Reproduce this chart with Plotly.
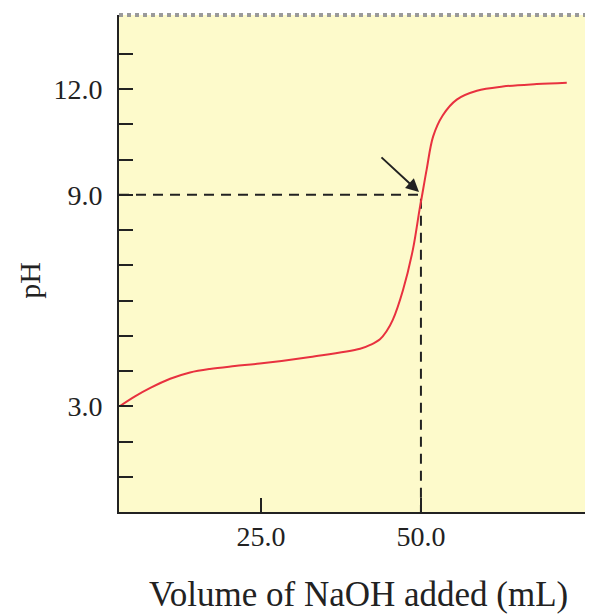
# Titration curve: pH vs volume of NaOH added
import plotly.graph_objects as go

# values
volume_ml = [2.9, 5.3, 7.7, 10.8, 13.9, 17.0, 20.9, 24.8, 32.7, 40.5, 42.2, 43.6, 44.6,
             45.6, 47.2, 48.75, 49.8, 50.1, 50.9, 51.9, 53.4, 55.6, 58.75, 62.8, 68.1, 72.8]
ph = [3.0, 3.28, 3.52, 3.78, 3.96, 4.06, 4.14, 4.21, 4.4, 4.63, 4.75, 4.9, 5.12,
      5.45, 6.3, 7.45, 8.6, 8.9, 9.72, 10.65, 11.25, 11.7, 11.95, 12.07, 12.14, 12.18]

eq_volume = 50.0
eq_ph = 9.0
arrow_tail = (43.6, 10.1)

y_ticks = list(range(1, 14))
y_labels = {3: "3.0", 9: "9.0", 12: "12.0"}
x_ticks = [25, 50]
x_labels = ["25.0", "50.0"]

x_min, x_max = 2.8, 76.9
y_min, y_max = 0, 14.1

fig = go.Figure()

# dashed guide lines to the equivalence point
fig.add_trace(go.Scatter(x=[x_min, eq_volume, eq_volume], y=[eq_ph, eq_ph, y_min],
                         mode="lines", line=dict(color="#222222", width=2, dash="10px,7px"),
                         hoverinfo="skip", showlegend=False))

fig.add_trace(go.Scatter(x=volume_ml, y=ph, mode="lines",
                         line=dict(color="#E8313F", width=2, shape="spline", smoothing=1.0),
                         showlegend=False))

fig.add_annotation(x=eq_volume - 0.3, y=eq_ph + 0.08, ax=arrow_tail[0], ay=arrow_tail[1],
                   xref="x", yref="y", axref="x", ayref="y", text="",
                   showarrow=True, arrowhead=2, arrowsize=1.3, arrowwidth=2, arrowcolor="#222222")

# axis titles placed by hand
fig.add_annotation(text="pH", x=-0.188, y=0.467, xref="paper", yref="paper",
                   textangle=-90, showarrow=False, xanchor="center", yanchor="middle",
                   font=dict(size=30, color="#222222"))
fig.add_annotation(text="Volume of NaOH added (mL)", x=0.506, y=-0.165, xref="paper", yref="paper",
                   showarrow=False, xanchor="center", yanchor="middle",
                   font=dict(size=35, color="#222222"))

# grey top border
fig.add_shape(type="line", xref="paper", yref="paper", x0=0, x1=1, y0=1, y1=1,
              line=dict(color="#9a9a9a", width=4, dash="dot"))

# page body has an 8px margin, so the figure is drawn 8px smaller and shifted
fig.update_layout(
    width=585, height=606,
    margin=dict(l=111, r=0, t=7, b=102),
    paper_bgcolor="white",
    plot_bgcolor="#FDFACB",
    font=dict(family="Liberation Serif", color="#222222"),
    xaxis=dict(range=[x_min, x_max], tickvals=x_ticks, ticktext=x_labels,
               ticks="inside", ticklen=14, tickwidth=2, tickcolor="#222222",
               showline=True, linecolor="#222222", linewidth=2, showgrid=False,
               zeroline=False, tickfont=dict(size=28), ticklabelstandoff=-2,
               automargin=False),
    yaxis=dict(range=[y_min, y_max], tickvals=y_ticks,
               ticktext=[y_labels.get(v, "") for v in y_ticks],
               ticks="inside", ticklen=14, tickwidth=2, tickcolor="#222222",
               showline=True, linecolor="#222222", linewidth=2, showgrid=False,
               zeroline=False, tickfont=dict(size=28), ticklabelstandoff=9,
               automargin=False),
)

fig.write_html("out.html")
